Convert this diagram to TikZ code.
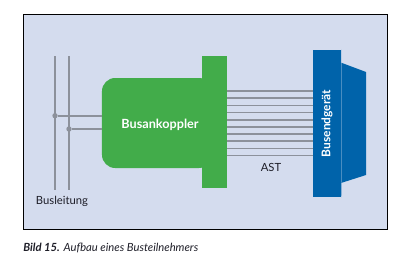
\documentclass[tikz,border=0pt]{standalone}
\usepackage{fontspec}
\setmainfont{Lato}
\usepackage{xcolor}
\usetikzlibrary{positioning}
\definecolor{bgblue}{RGB}{212,220,238}
\definecolor{kgreen}{RGB}{66,172,74}
\definecolor{dblue}{RGB}{0,99,170}
\definecolor{wiregray}{RGB}{140,145,155}
\definecolor{txtdark}{RGB}{30,30,40}
\tikzset{
  wire/.style={draw=wiregray, line width=1.2pt},
  busline/.style={draw=wiregray, line width=1.3pt},
  joint/.style={circle, fill=wiregray, inner sep=0pt, minimum size=3.8pt},
  greenbox/.style={fill=kgreen, rectangle, inner sep=0pt, font=\fontsize{9}{10}\selectfont\bfseries, text=white},
  bluebox/.style={fill=dblue, rectangle, inner sep=0pt},
  devtext/.style={font=\fontsize{8.5}{10}\selectfont\bfseries, text=white, inner sep=0pt},
  plain/.style={font=\fontsize{8}{10}\selectfont, text=txtdark, inner sep=0pt}
}

\begin{document}
\begin{tikzpicture}[x=0.25mm, y=-0.25mm]
  \useasboundingbox (0,0) rectangle (400,259);
  % Frame
  \draw [fill=bgblue, draw=black, line width=0.6pt] (23,14) rectangle (387,229);

  % Busankoppler
  \node [greenbox, rounded corners=3.3mm, minimum width=27.5mm, minimum height=22.5mm] (koppler) at (157,123) {};
  \node [greenbox, minimum width=6.25mm, minimum height=33mm] (kopf) at (214.5,122) {};
  \node [greenbox, fill=none] at (160,125) {Busankoppler};

  % Busendgeraet
  \node [bluebox, minimum width=7mm, minimum height=36.75mm] (geraet) at (327,123.5) {};
  \fill [dblue] (geraet.north east) -- ++(0,13) -- (366,72) -- (366,175) -- (341,183) -- (geraet.south east) -- cycle;
  \node [devtext, rotate=90] at (geraet) {Busendgerät};

  % Busleitung
  \coordinate (b1top) at (55,56);
  \coordinate (b1bot) at (55,190);
  \coordinate (b2top) at (69,56);
  \coordinate (b2bot) at (69,190);
  \draw [busline] (b1top) -- (b1bot);
  \draw [busline] (b2top) -- (b2bot);
  \node [joint] (j1) at (55,115.7) {};
  \node [joint] (j2) at (69,129) {};
  \draw [busline] (j1) -- (koppler.west |- j1);
  \draw [busline] (j2) -- (koppler.west |- j2);
  \node [plain] (busl) at (62,201) {Busleitung};

  % AST
  \foreach \i in {0,...,9}
    \draw [wire] (kopf.east |- 0,{91+7.18*\i}) -- (geraet.west |- 0,{91+7.18*\i});
  \node [plain] (ast) at (271,167) {AST};

  % Caption
  \node [plain, anchor=west] (cap) at (23,248) {\textbf{\textit{Bild 15.}} \textit{Aufbau eines Busteilnehmers}};
\end{tikzpicture}
\end{document}
